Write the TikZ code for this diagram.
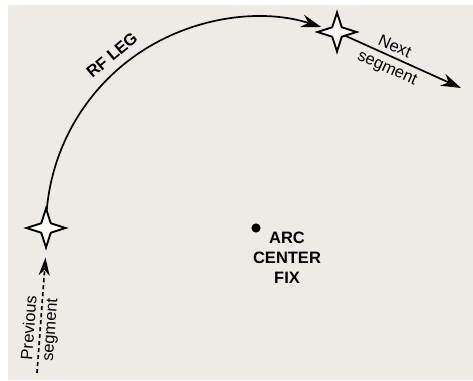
\documentclass[tikz,border=0pt]{standalone}
\usepackage{fontspec}
\setmainfont{Liberation Sans}
\usetikzlibrary{arrows.meta,shapes.geometric}
\definecolor{bgbeige}{HTML}{EEEBE5}
\begin{document}
\begin{tikzpicture}[x=1pt,y=1pt,
  fixstar/.style={star, star points=4, star point ratio=2.9, minimum size=39pt,
    inner sep=0pt, draw=black, fill=white, line width=1.9pt},
  leg/.style={line width=1.7pt, draw=black},
  bigtip/.style={-{Stealth[length=20pt,width=13pt]}},
  lbl/.style={font=\fontsize{16.5}{20}\selectfont, align=center, inner sep=0pt},
  blbl/.style={lbl, font=\fontsize{16.5}{20}\selectfont\bfseries}]
\useasboundingbox (0,0) rectangle (473,380);
\fill[bgbeige] (8,0) rectangle (473,375);
% positions
\coordinate (c) at (257,152);
\coordinate (p1) at (46,152);
\coordinate (p2) at (337,348);
\coordinate (ps) at (37,7);
\coordinate (nx) at (461,292);
% RF leg arc
\draw[leg, bigtip] (p1) arc[start angle=180, end angle=72.3, radius=211];
% next segment
\draw[leg, bigtip] (p2) -- (nx);
% fixes
\node[fixstar] (s1) at (p1) {};
\node[fixstar] (s2) at (p2) {};
% previous segment
\draw[leg, dash pattern=on 4pt off 3pt, -{Stealth[length=18pt,width=11pt]}, shorten >=7pt] (ps) -- (s1.south);
% centre fix
\fill (256,152) circle[radius=4.6] coordinate (dot);
\node[blbl, anchor=center] (acf) at (287,122) {ARC\\CENTER\\FIX};
% labels
\node[blbl, rotate=40] (rf) at (112,325) {RF LEG};
\node[lbl, rotate=-24] (nxt) at (395,334) {Next};
\node[lbl, rotate=-24] (nsg) at (387,311) {segment};
\node[lbl, rotate=86] (prv) at (28.5,52) {Previous};
\node[lbl, rotate=86] (psg) at (51.5,50) {segment};
\end{tikzpicture}
\end{document}
